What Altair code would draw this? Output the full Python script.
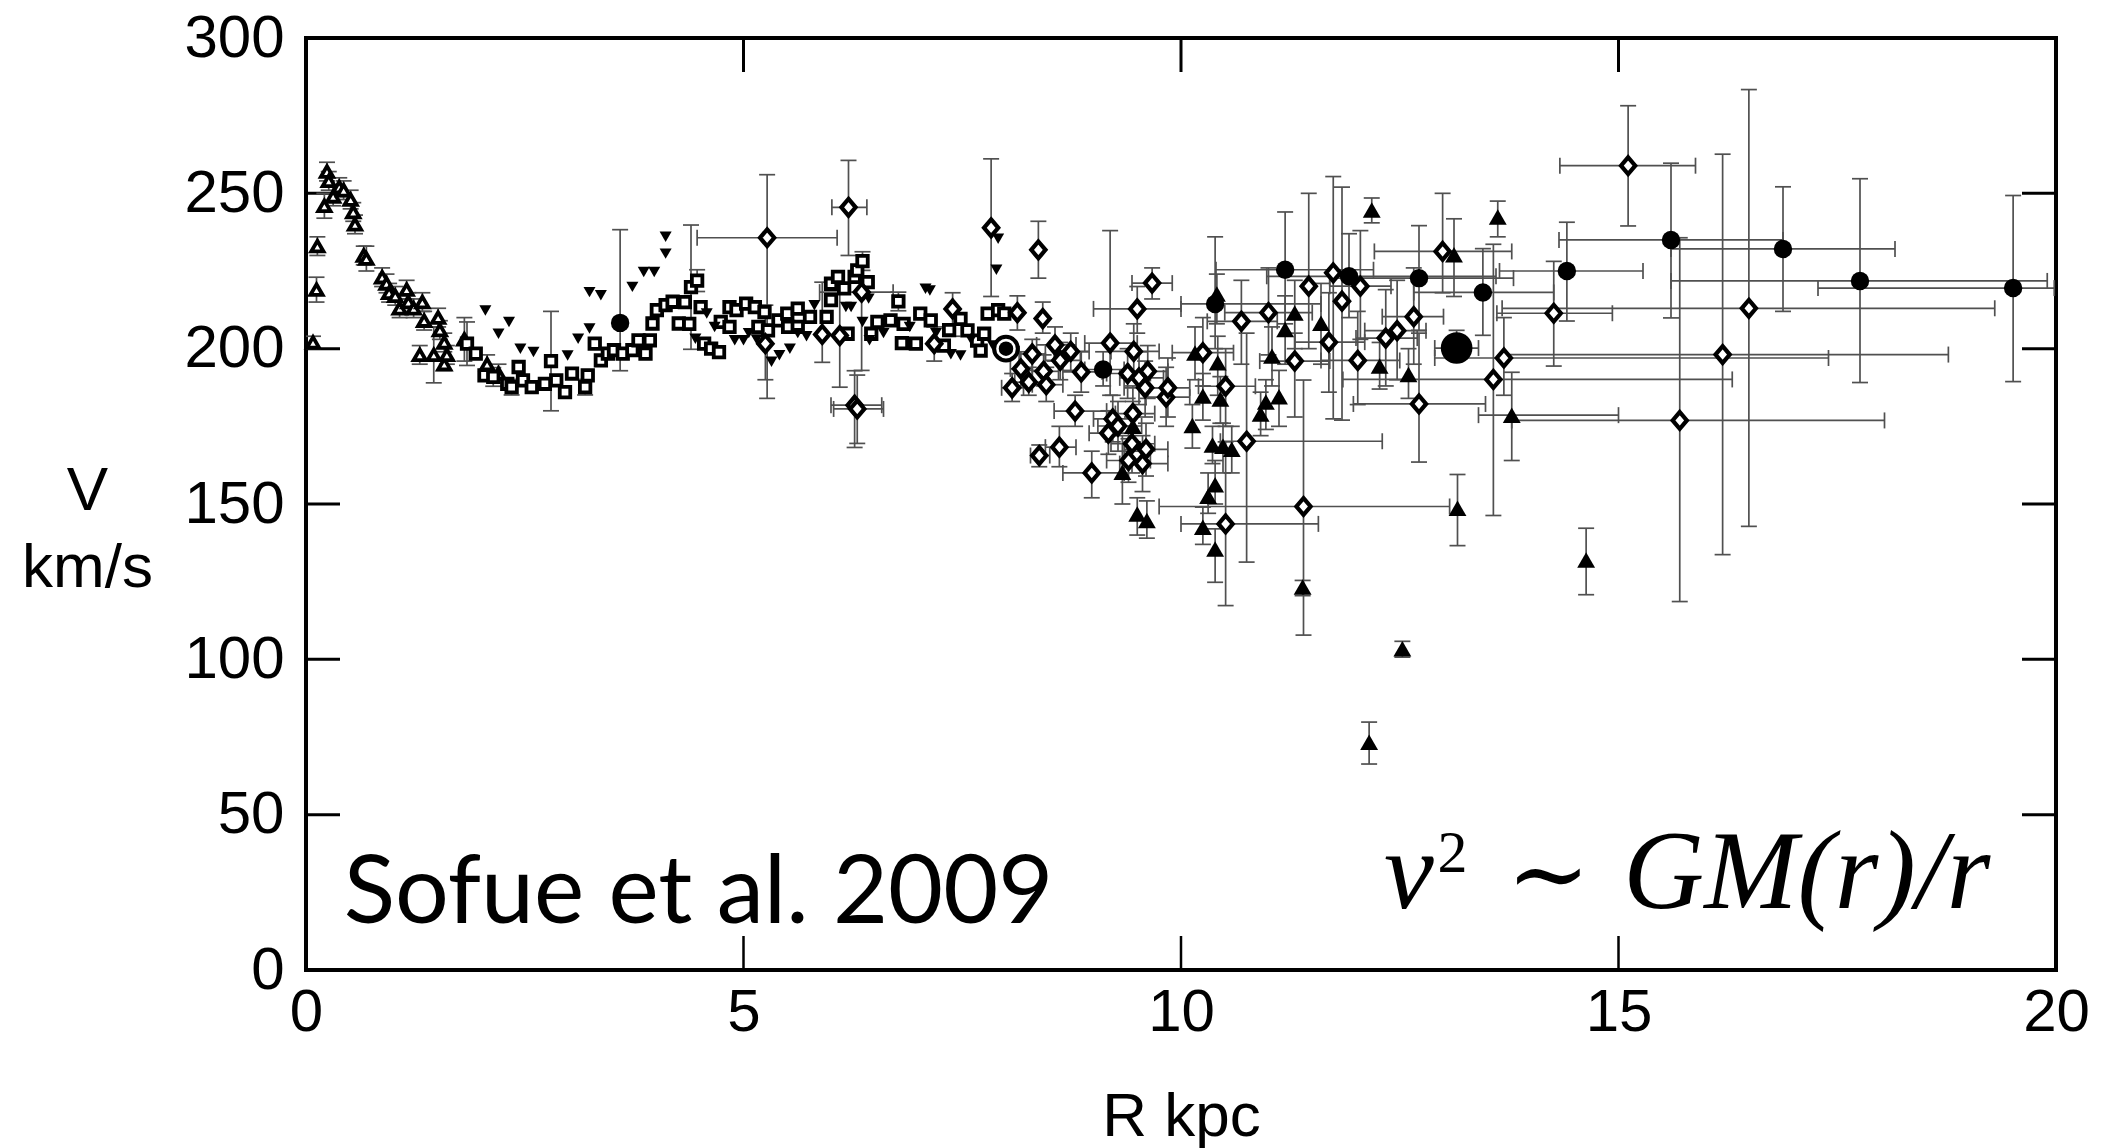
import altair as alt
import pandas as pd

# ---------------- data ----------------
# open triangles (inner disk)
ot_r = [0.08, 0.12, 0.13, 0.21, 0.24, 0.26, 0.31, 0.38, 0.43, 0.51, 0.54, 0.56, 0.66, 0.69, 0.87, 0.92, 0.95,
        1.02, 1.07, 1.15, 1.17, 1.23, 1.30, 1.33, 1.35, 1.46, 1.51, 1.53, 1.58, 1.58, 1.61, 1.81, 2.07, 2.20]
ot_v = [202, 219, 233, 246, 257, 254, 249, 252, 251, 248, 244, 240, 230, 229, 223, 221, 218,
        217, 213, 219, 215, 213, 198, 215, 209, 198, 210, 206, 202, 195, 198, 203, 195, 192]
ot_err = [2, 4, 3, 4, 3, 3, 3, 3, 3, 3, 3, 3, 3, 4, 3, 3, 3,
          3, 3, 3, 3, 3, 3, 3, 3, 9, 3, 3, 3, 2, 3, 7, 3, 3]

# open squares
sq_r = [1.84, 1.94, 2.04, 2.14, 2.30, 2.35, 2.43, 2.48, 2.58, 2.73, 2.80, 2.86, 2.96, 3.04, 3.19, 3.22, 3.30,
        3.37, 3.45, 3.52, 3.62, 3.73, 3.80, 3.88, 3.93, 3.96, 4.01, 4.11, 4.19, 4.26, 4.33, 4.38, 4.40, 4.47,
        4.51, 4.55, 4.63, 4.72, 4.74, 4.84, 4.84, 4.92, 5.03, 5.13, 5.17, 5.24, 5.28, 5.40, 5.50, 5.51, 5.62,
        5.62, 5.76, 5.95, 6.00, 6.00, 6.08, 6.15, 6.19, 6.27, 6.30, 6.36, 6.42, 6.46, 6.53, 6.68, 6.77, 6.81,
        6.83, 6.97, 7.02, 7.14, 7.29, 7.35, 7.48, 7.56, 7.67, 7.71, 7.75, 7.79, 7.91, 7.98]
sq_v = [201.6, 198.4, 191.4, 190.9, 188.7, 187.6, 194.1, 189.8, 187.6, 188.7, 196.0, 189.8, 186.0, 192.0, 187.6,
        191.4, 201.6, 196.2, 198.4, 199.5, 198.4, 199.5, 202.7, 198.4, 202.7, 208.1, 212.4, 214.0, 215.1, 208.1,
        215.0, 208.0, 219.8, 221.9, 213.4, 201.6, 200.0, 198.9, 208.6, 213.4, 207.0, 212.4, 214.5, 213.4, 207.0,
        211.8, 205.9, 209.1, 211.3, 207.0, 212.9, 207.0, 210.2, 210.2, 215.6, 220.9, 223.1, 219.4, 204.8, 223.1,
        225.2, 228.2, 221.4, 204.8, 208.6, 209.1, 215.2, 201.8, 208.0, 201.6, 211.3, 209.1, 201.0, 206.0, 209.6,
        205.9, 202.6, 199.4, 204.8, 211.3, 212.4, 211.3]
sq_err = [7, 0, 0, 3, 0, 2.5, 0, 0, 0, 0, 16, 0, 0, 0, 2.5, 0, 0,
          0, 0, 0, 0, 0, 0, 0, 0, 0, 0, 0, 0, 0, 0, 0, 20, 3.5,
          0, 0, 0, 0, 0, 0, 0, 0, 0, 0, 0, 0, 0, 0, 0, 0, 0,
          0, 0, 0, 0, 0, 0, 0, 0, 0, 0, 3, 0, 0, 0, 0, 3, 0,
          0, 0, 0, 0, 0, 0, 0, 0, 0, 0, 0, 0, 0, 0]

# small filled down-triangles
dt_r = [2.05, 2.20, 2.32, 2.45, 2.60, 2.99, 3.11, 3.24, 3.24, 3.37, 3.73, 3.86, 3.98, 4.11, 4.11, 4.45, 4.58,
        4.67, 4.90, 5.00, 5.06, 5.15, 5.32, 5.41, 5.53, 5.62, 5.72, 5.81, 6.17, 6.23, 6.36, 6.43, 6.44, 6.60,
        6.90, 7.08, 7.13, 7.20, 7.37, 7.48, 7.60, 7.85, 7.89, 7.91]
dt_v = [212.3, 204.8, 208.6, 200.0, 198.9, 197.8, 203.2, 206.5, 218.2, 217.2, 219.9, 224.7, 224.7, 230.6, 236.0,
        203.2, 211.3, 207.0, 202.7, 202.7, 205.0, 203.0, 195.8, 197.9, 200.0, 205.0, 204.0, 214.0, 213.4, 213.4,
        208.6, 216.1, 202.7, 205.0, 207.0, 219.3, 218.7, 205.0, 198.2, 197.8, 203.0, 201.0, 225.4, 235.4]

# filled circles
fc_r = [3.59, 9.11, 10.39, 11.19, 11.92, 12.72, 13.45, 14.41, 15.60, 16.88, 17.76, 19.51]
fc_v = [208.3, 193.3, 214.4, 225.4, 223.3, 222.7, 218.1, 225.0, 235.0, 232.1, 221.8, 219.5]
fc_rlo = [3.59, 8.90, 10.00, 10.40, 10.98, 11.70, 12.66, 13.64, 14.32, 15.60, 15.60, 17.28]
fc_rhi = [3.59, 9.35, 11.60, 12.20, 13.60, 13.80, 14.26, 15.28, 16.88, 18.16, 19.90, 19.98]
fc_vlo = [192.9, 188.0, 200.0, 208.0, 210.0, 205.9, 204.3, 208.9, 209.9, 212.0, 189.1, 189.4]
fc_vhi = [238.3, 199.0, 236.0, 244.0, 237.0, 239.6, 232.2, 240.7, 259.7, 252.1, 254.7, 249.3]

# open diamonds
di_r = [5.25, 5.27, 5.90, 6.10, 6.20, 6.27, 6.30, 6.35, 7.18, 7.39, 7.83, 8.07, 8.13, 8.17, 8.26, 8.30, 8.37,
        8.38, 8.42, 8.43, 8.46, 8.56, 8.61, 8.62, 8.74, 8.79, 8.86, 8.98, 9.17, 9.19, 9.22, 9.28, 9.39, 9.40,
        9.44, 9.45, 9.46, 9.50, 9.52, 9.56, 9.59, 9.60, 9.62, 9.67, 9.83, 9.85, 10.25, 10.51, 10.51, 10.69,
        10.75, 11.00, 11.30, 11.40, 11.46, 11.69, 11.74, 11.84, 12.02, 12.05, 12.34, 12.47, 12.66, 12.72,
        12.99, 13.57, 13.69, 14.26, 15.11, 15.70, 16.19, 16.49]
di_v = [201.6, 235.7, 204.6, 204.2, 245.5, 181.8, 180.6, 218.2, 201.6, 212.8, 238.9, 187.4, 211.6, 193.5, 189.2,
        198.3, 231.8, 165.6, 209.7, 192.7, 188.4, 201.2, 168.3, 196.2, 199.1, 179.9, 192.5, 160.0, 172.8, 201.8,
        177.4, 175.1, 192.0, 164.0, 169.4, 179.1, 199.1, 212.8, 190.6, 163.0, 187.4, 167.6, 192.7, 221.1, 184.4,
        187.4, 198.7, 187.9, 143.6, 208.8, 170.2, 211.6, 196.0, 149.2, 220.1, 202.1, 224.4, 215.3, 196.2, 220.1,
        203.4, 205.8, 210.3, 182.2, 231.3, 190.1, 197.0, 211.4, 258.9, 176.9, 198.1, 213.0]
di_rlo = [5.25, 4.47, 5.90, 6.10, 6.01, 6.00, 6.03, 5.87, 7.18, 7.39, 7.83, 7.95, 8.13, 8.05, 8.10, 8.15, 8.37,
          8.28, 8.42, 8.30, 8.30, 8.35, 8.45, 8.45, 8.55, 8.55, 8.65, 8.65, 8.95, 8.90, 9.00, 9.05, 9.15, 9.15,
          9.20, 9.25, 9.20, 9.00, 9.30, 9.30, 9.35, 9.35, 9.40, 9.44, 9.60, 9.60, 9.90, 10.20, 10.00, 10.30,
          10.45, 10.50, 10.90, 9.75, 11.46, 11.30, 11.74, 11.84, 11.60, 11.70, 12.00, 12.10, 12.30, 11.97,
          12.21, 11.85, 12.90, 13.61, 14.33, 13.78, 13.69, 13.67]
di_rhi = [5.25, 6.07, 5.90, 6.10, 6.41, 6.58, 6.60, 6.71, 7.18, 7.39, 7.83, 8.20, 8.13, 8.30, 8.45, 8.45, 8.37,
          8.50, 8.42, 8.60, 8.65, 8.80, 8.80, 8.85, 8.95, 9.15, 9.10, 9.35, 9.40, 9.50, 9.45, 9.55, 9.65, 9.65,
          9.70, 9.70, 9.75, 10.00, 9.80, 9.85, 9.85, 9.85, 9.85, 9.90, 10.10, 10.10, 10.60, 10.85, 11.57, 11.10,
          12.30, 11.50, 11.70, 13.07, 11.46, 12.10, 11.74, 11.84, 12.50, 12.40, 12.70, 12.80, 13.00, 13.48,
          13.78, 16.30, 17.40, 14.93, 15.88, 18.04, 18.77, 19.30]
di_vlo = [190.0, 184.0, 195.6, 187.6, 230.0, 168.2, 169.5, 193.0, 196.0, 204.0, 216.8, 183.0, 206.0, 188.0, 185.0,
          193.0, 222.7, 162.0, 205.0, 188.0, 183.0, 196.0, 162.0, 190.0, 193.0, 175.0, 186.0, 152.0, 166.0, 185.0,
          170.0, 167.0, 184.0, 157.0, 160.0, 170.0, 190.0, 205.0, 182.0, 154.0, 178.0, 159.0, 184.0, 216.0, 175.0,
          178.0, 188.0, 175.0, 117.3, 195.0, 131.3, 198.0, 178.0, 107.8, 200.0, 186.0, 177.4, 177.0, 182.0, 203.0,
          188.0, 190.0, 195.0, 163.5, 218.0, 146.3, 185.0, 194.4, 239.5, 118.6, 133.7, 142.8]
di_vhi = [214.0, 256.0, 221.4, 219.0, 260.6, 192.9, 191.5, 223.0, 207.0, 218.0, 261.1, 192.0, 217.0, 199.0, 194.0,
          203.0, 241.0, 169.0, 215.0, 198.0, 194.0, 207.0, 175.0, 202.0, 205.0, 185.0, 199.0, 167.0, 180.0, 238.0,
          185.0, 183.0, 200.0, 171.0, 178.0, 188.0, 208.0, 220.0, 199.0, 172.0, 196.0, 176.0, 201.0, 226.0, 194.0,
          197.0, 210.0, 200.0, 170.0, 222.0, 205.0, 226.0, 205.0, 189.9, 250.0, 218.0, 255.4, 252.0, 212.0, 238.0,
          219.0, 222.0, 226.0, 205.0, 250.0, 233.6, 210.0, 228.1, 278.2, 235.7, 262.6, 283.4]

# filled up-triangles
ft_r = [9.33, 9.45, 9.50, 9.61, 10.13, 10.16, 10.25, 10.25, 10.31, 10.36, 10.39, 10.39, 10.41, 10.42, 10.45,
        10.48, 10.58, 10.91, 10.97, 11.04, 11.12, 11.19, 11.30, 11.39, 11.60, 12.15, 12.18, 12.27, 12.53, 12.60,
        13.12, 13.16, 13.62, 13.78, 14.63]
ft_v = [160.2, 175.0, 146.8, 144.7, 175.3, 198.6, 184.8, 142.5, 152.5, 169.0, 156.2, 135.5, 217.6, 195.5, 183.8,
        168.6, 167.6, 179.0, 182.8, 197.6, 184.5, 206.2, 211.5, 123.3, 208.2, 73.3, 244.6, 194.4, 103.4, 191.7,
        230.2, 148.6, 242.4, 178.6, 132.0]
ft_vlo = [150.0, 167.0, 140.0, 139.0, 168.0, 190.0, 177.0, 137.0, 147.0, 163.0, 150.0, 124.8, 208.0, 185.0, 176.0,
          160.0, 160.0, 172.0, 174.0, 188.0, 175.0, 195.0, 200.0, 120.5, 195.0, 66.3, 240.5, 187.0, 100.7, 184.0,
          216.8, 136.6, 236.0, 164.0, 120.8]
ft_vhi = [172.0, 183.0, 152.0, 151.0, 182.0, 207.0, 192.0, 149.0, 160.0, 175.0, 164.0, 142.0, 224.0, 204.0, 191.0,
          176.0, 175.0, 186.0, 190.0, 207.0, 193.0, 217.0, 222.0, 125.4, 221.0, 79.8, 248.5, 202.0, 105.8, 200.0,
          241.8, 159.5, 247.5, 192.4, 142.2]
ft_rlo = [9.33, 9.45, 9.50, 9.61, 10.13, 10.16, 10.25, 10.25, 10.31, 10.36, 10.39, 10.39, 10.41, 10.42, 10.45,
          10.48, 10.58, 10.91, 10.97, 11.04, 11.12, 11.19, 11.30, 11.39, 11.60, 12.15, 12.18, 12.27, 12.53, 12.60,
          13.12, 13.16, 13.62, 13.40, 14.63]
ft_rhi = [9.33, 9.45, 9.50, 9.61, 10.13, 10.16, 10.25, 10.25, 10.31, 10.36, 10.39, 10.39, 10.41, 10.42, 10.45,
          10.48, 10.58, 10.91, 10.97, 11.04, 11.12, 11.19, 11.30, 11.39, 11.60, 12.15, 12.18, 12.27, 12.53, 12.60,
          13.12, 13.16, 13.62, 15.00, 14.63]

# the Sun and the large filled circle
sun_r, sun_v = [8.0], [200.0]
big_r, big_v = [13.15], [200.2]
big_rlo, big_rhi, big_vlo, big_vhi = [12.9], [13.4], [196.9], [205.9]

x_tick_vals = [0, 5, 10, 15, 20]
y_tick_vals = [0, 50, 100, 150, 200, 250, 300]
inner_x_ticks = [5, 10, 15]
inner_y_ticks = [50, 100, 150, 200, 250]

# ---------------- assemble error bars ----------------
vb, hb = [], []
for r, v, e in zip(ot_r, ot_v, ot_err):
    if e > 0:
        vb.append((r, v - e, v + e))
for r, v, e in zip(sq_r, sq_v, sq_err):
    if e > 0:
        vb.append((r, v - e, v + e))
for rr, vv, rl, rh, vl, vh in [
    (fc_r, fc_v, fc_rlo, fc_rhi, fc_vlo, fc_vhi),
    (di_r, di_v, di_rlo, di_rhi, di_vlo, di_vhi),
    (ft_r, ft_v, ft_rlo, ft_rhi, ft_vlo, ft_vhi),
    (big_r, big_v, big_rlo, big_rhi, big_vlo, big_vhi),
]:
    for r, v, a, b, c, d in zip(rr, vv, rl, rh, vl, vh):
        if d > c:
            vb.append((r, c, d))
        if b > a:
            hb.append((v, a, b))

vbars = pd.DataFrame(vb, columns=["r", "lo", "hi"])
hbars = pd.DataFrame(hb, columns=["v", "lo", "hi"])
vcaps = pd.DataFrame({"r": list(vbars.r) * 2, "v": list(vbars.lo) + list(vbars.hi)})
hcaps = pd.DataFrame({"v": list(hbars.v) * 2, "r": list(hbars.lo) + list(hbars.hi)})

# ---------------- chart ----------------
W, H = 1750, 932
XS = alt.Scale(domain=[0, 20], nice=False, zero=False)
YS = alt.Scale(domain=[0, 300], nice=False, zero=False)
FONT = "Liberation Sans"
MATH = "Liberation Serif"
EBC = "#505050"

xaxis = alt.Axis(values=x_tick_vals, title="R kpc", format="d", ticks=False, domain=False, grid=False,
                 labelFont=FONT, labelFontSize=60, labelColor="black", labelPadding=13, labelFlush=False,
                 titleFont=FONT, titleFontSize=62, titleFontWeight="normal", titleColor="black",
                 titleX=875, titleY=146, titleAlign="center", titleBaseline="middle")
yaxis = alt.Axis(values=y_tick_vals, title=["V", "km/s"], format="d", ticks=False, domain=False, grid=False,
                 labelFont=FONT, labelFontSize=60, labelColor="black", labelPadding=22, labelFlush=False,
                 titleFont=FONT, titleFontSize=62, titleFontWeight="normal", titleColor="black",
                 titleAngle=0, titleX=-219, titleY=452, titleAlign="center", titleBaseline="middle",
                 titleLineHeight=77)


def X(field):
    return alt.X(field, type="quantitative", scale=XS, axis=xaxis)


def Y(field):
    return alt.Y(field, type="quantitative", scale=YS, axis=yaxis)


def DX(val):
    return alt.datum(val, scale=XS, axis=xaxis)


def DY(val):
    return alt.datum(val, scale=YS, axis=yaxis)


ytk = pd.DataFrame({"v": inner_y_ticks})
xtk = pd.DataFrame({"r": inner_x_ticks})
TK = 34
tick_left = alt.Chart(ytk).mark_rule(color="black", strokeWidth=3).encode(
    y=Y("v"), x=alt.value(0), x2=alt.value(TK))
tick_right = alt.Chart(ytk).mark_rule(color="black", strokeWidth=3).encode(
    y=Y("v"), x=alt.value(W - TK), x2=alt.value(W))
tick_bot = alt.Chart(xtk).mark_rule(color="black", strokeWidth=2.5).encode(
    x=X("r"), y=alt.value(H), y2=alt.value(H - TK))
tick_top = alt.Chart(xtk).mark_rule(color="black", strokeWidth=3).encode(
    x=X("r"), y=alt.value(0), y2=alt.value(TK))

vbar_l = alt.Chart(vbars).mark_rule(color=EBC, strokeWidth=1.7, clip=True).encode(
    x=X("r"), y=Y("lo"), y2="hi")
hbar_l = alt.Chart(hbars).mark_rule(color=EBC, strokeWidth=1.7, clip=True).encode(
    y=Y("v"), x=X("lo"), x2="hi")
vcap_l = alt.Chart(vcaps).mark_tick(color=EBC, orient="horizontal", size=16, thickness=1.7, opacity=1,
                                    clip=True).encode(x=X("r"), y=Y("v"))
hcap_l = alt.Chart(hcaps).mark_tick(color=EBC, orient="vertical", size=16, thickness=1.7, opacity=1,
                                    clip=True).encode(x=X("r"), y=Y("v"))

DIAMOND = "M0,-1L0.85,0L0,1L-0.85,0Z"


def open_pts(r, v, shape, size, sw=3.5):
    return alt.Chart(pd.DataFrame({"r": r, "v": v})).mark_point(
        shape=shape, size=size, filled=True, fill="white", stroke="black", strokeWidth=sw,
        opacity=1, fillOpacity=1, strokeOpacity=1).encode(x=X("r"), y=Y("v"))


def solid_pts(r, v, shape, size):
    return alt.Chart(pd.DataFrame({"r": r, "v": v})).mark_point(
        shape=shape, size=size, filled=True, fill="black", strokeWidth=0, opacity=1).encode(
        x=X("r"), y=Y("v"))


l_ot = open_pts(ot_r, ot_v, "triangle-up", 150, 3.8)
l_sq = open_pts(sq_r, sq_v, "square", 110, 3.8)
l_dt = solid_pts(dt_r, dt_v, "triangle-down", 145)
l_fc = solid_pts(fc_r, fc_v, "circle", 340)
l_di = open_pts(di_r, di_v, DIAMOND, 280, 4.2)
l_ft = solid_pts(ft_r, ft_v, "triangle-up", 320)
l_big = solid_pts(big_r, big_v, "circle", 1000)
l_sun_ring = open_pts(sun_r, sun_v, "circle", 560, 4)
l_sun_dot = solid_pts(sun_r, sun_v, "circle", 210)


def label(txt, x, y, align, font, size, style="normal"):
    return alt.Chart(pd.DataFrame({"t": [txt]})).mark_text(
        align=align, baseline="alphabetic", font=font, fontSize=size, fontStyle=style,
        color="black").encode(x=DX(x), y=DY(y), text="t:N")


sofue = label("Sofue et al. 2009", 0.43, 15, "left", "Lato", 95)
f_v = label("v", 12.32, 19.8, "left", MATH, 112, "italic")
f_2 = label("2", 12.93, 31.7, "left", MATH, 60)
f_sim = label("∼", 14.2, 19.8, "center", "DejaVu Serif", 100)
f_rest = label("GM(r)/r", 19.25, 19.8, "right", MATH, 112, "italic")

chart = alt.layer(
    tick_left, tick_right, tick_bot, tick_top,
    vbar_l, hbar_l, vcap_l, hcap_l,
    l_ot, l_sq, l_dt, l_fc, l_di, l_ft, l_big, l_sun_ring, l_sun_dot,
    sofue, f_v, f_2, f_sim, f_rest,
).properties(
    width=W, height=H,
    autosize=alt.AutoSizeParams(type="none"),
    padding={"left": 306, "top": 38, "right": 55, "bottom": 178},
    background="white",
).configure_view(stroke="black", strokeWidth=4)

chart.save("out.html", embed_options={"renderer": "svg", "actions": False})
